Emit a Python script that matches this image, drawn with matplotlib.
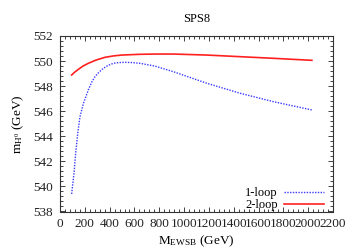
import matplotlib
matplotlib.use("Agg")
import matplotlib.pyplot as plt
from matplotlib.ticker import MultipleLocator, AutoMinorLocator

plt.rcParams['font.family'] = ['Liberation Serif', 'DejaVu Serif']
plt.rcParams['mathtext.fontset'] = 'custom'
plt.rcParams['mathtext.rm'] = 'Liberation Serif'
plt.rcParams['mathtext.it'] = 'Liberation Serif:italic'

title = "SPS8"
xlabel = r"M$_{\mathregular{EWSB}}$ (GeV)"
ylabel = r"m$_{\mathregular{H}^0}$ (GeV)"

m_1loop = [94, 104, 113, 121, 129, 143, 161, 188, 228, 255, 282, 315, 349, 390, 430, 475, 524, 580, 645, 766, 914, 1183, 1452, 1720, 2030]
h_1loop = [539.4, 540.3, 541.05, 542.05, 542.9, 544.24, 545.56, 546.6, 547.7, 548.3, 548.76, 549.12, 549.42, 549.67, 549.82, 549.88, 549.9, 549.88, 549.82, 549.6, 549.15, 548.23, 547.43, 546.76, 546.1]

m_2loop = [94, 120, 148, 185, 228, 290, 363, 430, 497, 645, 766, 914, 1183, 1452, 1720, 2030]
h_2loop = [548.89, 549.13, 549.34, 549.6, 549.82, 550.08, 550.3, 550.41, 550.48, 550.54, 550.56, 550.56, 550.48, 550.35, 550.22, 550.06]

fig = plt.figure(figsize=(3.54, 2.48), dpi=100)
ax = fig.add_axes([60/354, 1-211.5/248, 273/354, 175.5/248])

ax.plot(m_1loop, h_1loop, color='#3a3aff', linestyle=(0, (1, 1.0)), linewidth=1.0, label='1-loop')
ax.plot(m_2loop, h_2loop, color='#ff2020', linestyle='-', linewidth=1.2, label='2-loop')

ax.set_xlim(0, 2200)
ax.set_ylim(538, 552)
ax.xaxis.set_major_locator(MultipleLocator(200))
ax.yaxis.set_major_locator(MultipleLocator(2))
ax.xaxis.set_minor_locator(AutoMinorLocator(5))
ax.yaxis.set_minor_locator(AutoMinorLocator(5))
ax.tick_params(which='both', direction='in', top=True, right=True, labelsize=9.5, colors='#222222', width=0.6)
ax.tick_params(which='major', length=3.5, pad=5)
ax.tick_params(which='minor', length=2)
for s in ax.spines.values():
    s.set_color('#333333')
    s.set_linewidth(0.8)

ax.set_title(title, fontsize=9, pad=10)
ax.set_xlabel(xlabel, fontsize=9.5, labelpad=2)
ax.set_ylabel(ylabel, fontsize=9.5, labelpad=5)

ax.legend(loc='lower right', frameon=False, fontsize=9, markerfirst=False,
          handlelength=3.2, handletextpad=0.5, labelspacing=0.0,
          borderaxespad=0.0, bbox_to_anchor=(0.985, -0.025))

fig.savefig('out.png', dpi=100)
